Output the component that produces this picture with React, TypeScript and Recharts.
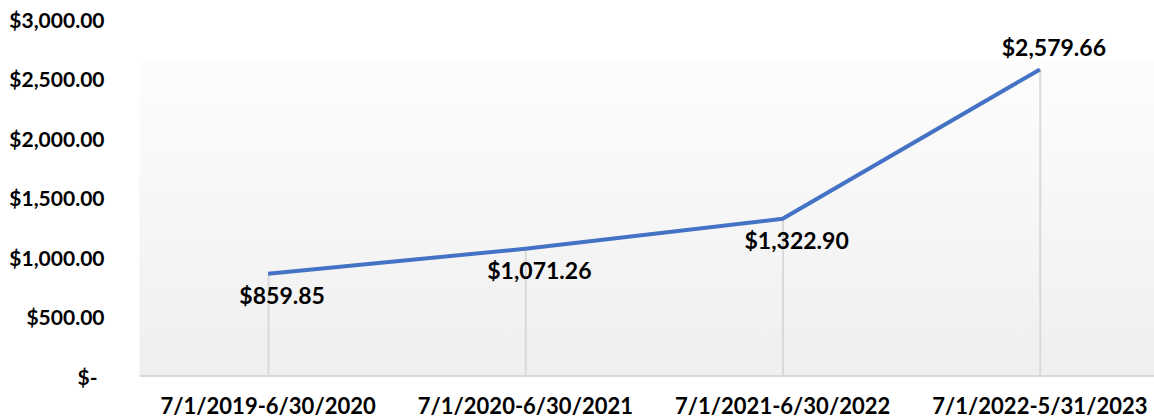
import React from 'react';
import { ComposedChart, Line, Bar, XAxis, YAxis, CartesianGrid } from 'recharts';

const categories = ['7/1/2019-6/30/2020', '7/1/2020-6/30/2021', '7/1/2021-6/30/2022', '7/1/2022-5/31/2023'];
const amounts = [859.85, 1071.26, 1322.9, 2579.66];
const yTicks = [0, 500, 1000, 1500, 2000, 2500, 3000];

const data = categories.map((c, i) => ({ period: c, amount: amounts[i] }));

const FONT = 'Lato, "Open Sans", sans-serif';

const money = (v: number) =>
  '$' + v.toLocaleString('en-US', { minimumFractionDigits: 2, maximumFractionDigits: 2 });

const YTick = (props: any) => {
  const { x, y, payload } = props;
  const v = payload.value as number;
  const text = v === 0 ? '$-' : money(v);
  return (
    <text x={v === 0 ? x - 34 : x - 27} y={y} textAnchor="end" dominantBaseline="central"
      fontFamily={FONT} fontWeight={700} fontSize={21} fill="#000">
      {text}
    </text>
  );
};

const XTick = (props: any) => {
  const { x, y, payload } = props;
  return (
    <text x={x} y={y + 21} textAnchor="middle" dominantBaseline="central"
      fontFamily={FONT} fontWeight={700} fontSize={22} fill="#000">
      {payload.value}
    </text>
  );
};

const renderLabel = (p: any) => {
  const above = p.index === amounts.length - 1;
  return (
    <text key={p.index} x={p.x + 14} y={p.y + (above ? -22 : 21)} textAnchor="middle"
      dominantBaseline="central" fontFamily={FONT} fontWeight={700} fontSize={23} fill="#000">
      {money(p.value)}
    </text>
  );
};

export default function App() {
  return (
    <div style={{ position: 'absolute', left: 0, top: 0, width: 1154, height: 419, overflow: 'hidden', background: '#fff' }}>
      <ComposedChart width={1170} height={419} data={data}
        margin={{ top: 19.5, right: 1.5, bottom: 0, left: 0 }}>
        <defs>
          <linearGradient id="plotBg" x1="0" y1="0" x2="0" y2="1">
            <stop offset="0" stopColor="#ffffff" />
            <stop offset="0.113" stopColor="#ffffff" />
            <stop offset="0.114" stopColor="#fdfdfd" />
            <stop offset="1" stopColor="#efefef" />
          </linearGradient>
        </defs>
        <CartesianGrid horizontal={false} vertical={false} fill="url(#plotBg)" />
        <XAxis dataKey="period" tick={<XTick />} tickLine={false}
          axisLine={{ stroke: '#d9d9d9', strokeWidth: 2 }} height={43} interval={0} />
        <YAxis domain={[0, 3000]} ticks={yTicks} tick={<YTick />} tickLine={false}
          axisLine={false} width={139.5} />
        <Bar dataKey="amount" barSize={2} fill="#d9d9d9" isAnimationActive={false} />
        <Line dataKey="amount" type="linear" stroke="#4472c4" strokeWidth={4} dot={false}
          activeDot={false} label={renderLabel} isAnimationActive={false} />
      </ComposedChart>
    </div>
  );
}
